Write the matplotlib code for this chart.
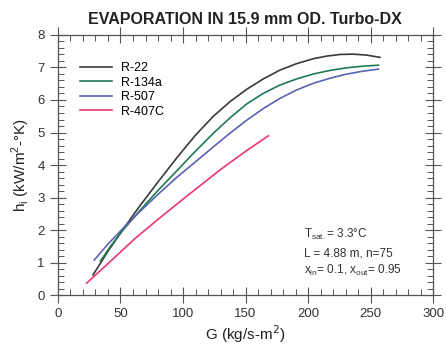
import numpy as np
import matplotlib
matplotlib.use('Agg')
import matplotlib.pyplot as plt
from matplotlib.ticker import MultipleLocator

plt.rcParams['font.family'] = ['Liberation Sans', 'DejaVu Sans']

# 读出的曲线数据 (G, h_i)
g_r22 = [28, 40, 52, 65, 80, 95, 110, 124.3, 137.6, 151, 164.3, 177.6, 191, 204.3, 215, 225.6, 236, 247, 257.6]
h_r22 = [0.62, 1.35, 2.02, 2.72, 3.48, 4.22, 4.92, 5.50, 5.95, 6.33, 6.65, 6.92, 7.12, 7.27, 7.35, 7.40, 7.41, 7.38, 7.31]

g_r134a = [34, 42, 52, 65, 80, 95, 108.3, 124.3, 137.6, 151, 164, 177.6, 191, 204.3, 217.6, 231, 244, 256.3]
h_r134a = [1.05, 1.50, 2.00, 2.58, 3.22, 3.82, 4.36, 4.98, 5.45, 5.88, 6.20, 6.46, 6.65, 6.80, 6.91, 6.99, 7.04, 7.07]

g_r507 = [29, 40, 52, 65, 80, 95, 110, 124, 137.6, 151, 164.3, 177.6, 191, 204, 217.6, 230, 243, 256.3]
h_r507 = [1.08, 1.57, 2.05, 2.55, 3.10, 3.62, 4.10, 4.55, 4.98, 5.38, 5.74, 6.05, 6.31, 6.51, 6.67, 6.79, 6.88, 6.95]

g_r407c = [23, 40, 61.6, 80, 100, 129.6, 150, 168.3]
h_r407c = [0.37, 0.97, 1.74, 2.33, 2.95, 3.85, 4.42, 4.90]

labels = ['R-22', 'R-134a', 'R-507', 'R-407C']
colors = ['#3a3a3a', '#1f7a55', '#5a62b4', '#e8386e']

fig = plt.figure(figsize=(4.46, 3.46), dpi=100)
ax = fig.add_axes([0.130, 0.147, 0.841, 0.752])

series = [(g_r22, h_r22), (g_r134a, h_r134a), (g_r507, h_r507), (g_r407c, h_r407c)]
for (g, h), lab, c in zip(series, labels, colors):
    ax.plot(g, h, color=c, lw=1.2, label=lab)

ax.set_xlim(0, 300)
ax.set_ylim(0, 8)
ax.xaxis.set_major_locator(MultipleLocator(50))
ax.xaxis.set_minor_locator(MultipleLocator(10))
ax.yaxis.set_major_locator(MultipleLocator(1))
ax.yaxis.set_minor_locator(MultipleLocator(0.2))
ax.tick_params(which='major', direction='inout', length=12, width=0.8, color='#555555',
               labelsize=9.5, labelcolor='#333333', top=True, right=True, labeltop=False, labelright=False)
ax.tick_params(which='minor', direction='in', length=4, width=0.7, color='#555555', top=True, right=True)
for s in ax.spines.values():
    s.set_color('#555555')
    s.set_linewidth(0.9)

ax.set_xlabel('G (kg/s-m$^2$)', fontsize=11, color='#222222', labelpad=2)
ax.set_ylabel('h$_\\mathregular{i}$ (kW/m$^\\mathregular{2}$-°K)', fontsize=11, color='#222222', labelpad=4)
fig.text(0.55, 0.945, 'EVAPORATION IN 15.9 mm OD. Turbo-DX', ha='center', va='center',
         fontsize=11.5, fontweight='bold', color='#222222')

ax.legend(loc='upper left', bbox_to_anchor=(0.045, 0.915), frameon=False, fontsize=9,
          handlelength=2.6, handletextpad=0.7, labelspacing=0.2, borderaxespad=0)

ax.text(197, 1.75, 'T$_\\mathregular{sat.}$= 3.3°C', fontsize=8.5, color='#333333')
ax.text(197, 1.2, 'L = 4.88 m, n=75', fontsize=8.5, color='#333333')
ax.text(197, 0.65, 'x$_\\mathregular{in}$= 0.1, x$_\\mathregular{out}$= 0.95', fontsize=8.5, color='#333333')

fig.savefig('out.png', dpi=100)
